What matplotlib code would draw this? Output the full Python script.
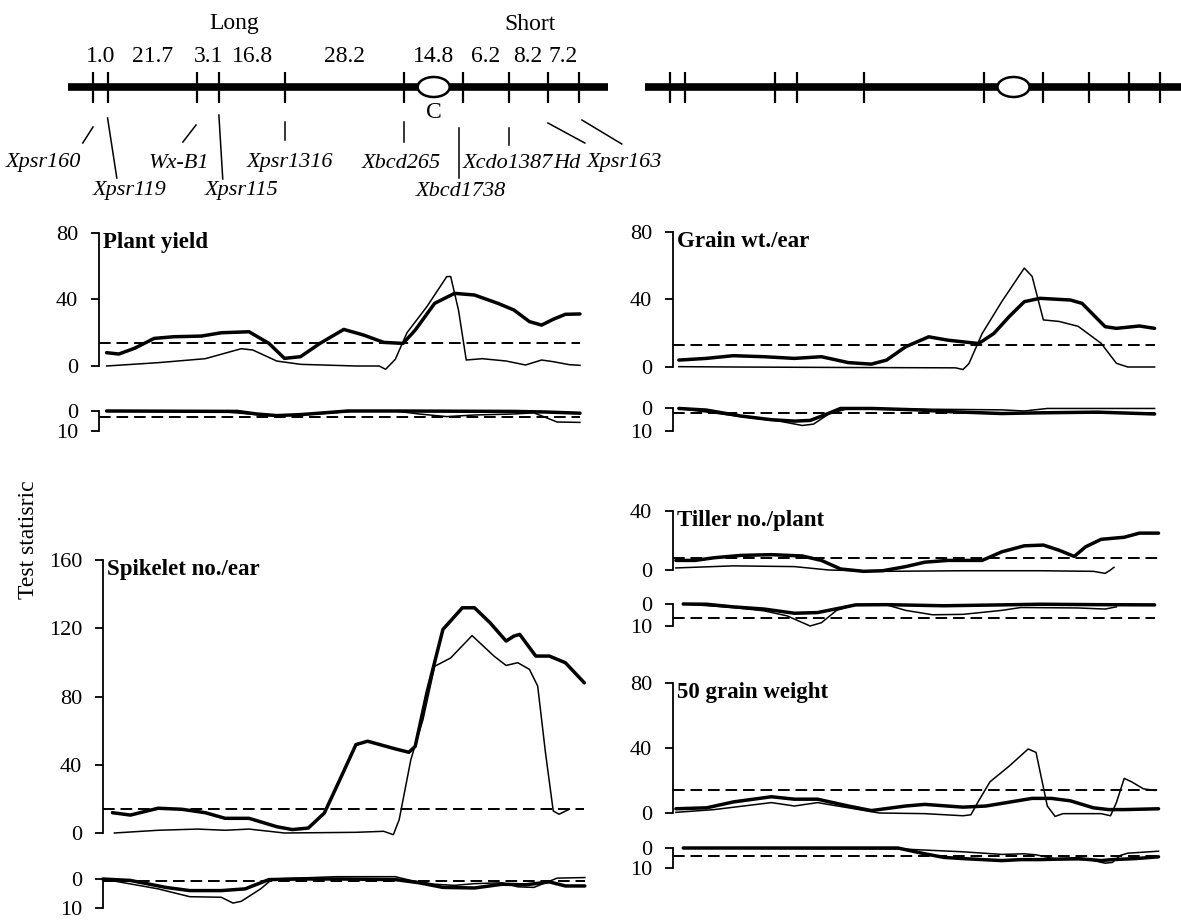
import matplotlib.pyplot as plt
from matplotlib.patches import Ellipse

plt.rcParams['font.family'] = ['Liberation Serif', 'DejaVu Serif']

W, H = 1181, 921

# ---- genetic map (positions on the drawn map, 0 = Xpsr160, 100 = Xpsr163) ----
markers = ['Xpsr160', 'Xpsr119', 'Wx-B1', 'Xpsr115', 'Xpsr1316',
           'Xbcd265', 'Xbcd1738', 'Xcdo1387', 'Hd', 'Xpsr163']
marker_pos = [0, 3.0, 21.5, 25.9, 39.6, 64.0, 76.1, 85.5, 93.6, 100]
intervals = ['1.0', '21.7', '3.1', '16.8', '28.2', '14.8', '6.2', '8.2', '7.2']
centromere_pos = 70.1

# ---- Plant yield ----
py_thick_x = [2.8, 5.3, 8.5, 12.6, 16.6, 22.3, 26.4, 32.1, 36.2, 39.4, 42.7, 46.7, 51.6, 55.7,
              59.8, 63.8, 66.3, 70.3, 74.4, 78.5, 83.3, 86.6, 89.8, 92.3, 94.7, 97.2, 100.2]
py_thick_y = [8.0, 7.2, 10.6, 16.6, 17.6, 18.0, 20.0, 20.6, 13.6, 4.6, 5.6, 13.6, 22.0, 18.6,
              14.2, 13.6, 21.6, 37.7, 43.7, 42.7, 37.7, 33.7, 26.7, 24.6, 28.1, 31.1, 31.3]
py_thin_x = [2.8, 13.4, 23.1, 30.5, 32.9, 37.8, 42.7, 54.1, 58.9, 60.2, 62.2, 64.6, 68.7, 72.8,
             73.6, 75.2, 76.8, 80.1, 85.0, 89.0, 92.3, 94.7, 98.0, 100.2]
py_thin_y = [0.0, 2.0, 4.4, 10.4, 9.6, 3.0, 1.0, 0.0, 0.0, -2.0, 4.0, 20.0, 35.7, 53.8,
             53.8, 33.7, 3.6, 4.4, 3.0, 0.6, 3.6, 2.6, 0.8, 0.4]
py_sub_thick_x = [2.8, 29.7, 33.7, 37.8, 42.7, 47.6, 52.4, 62.2, 86.6, 93.1, 100.2]
py_sub_thick_y = [0.0, 0.2, 1.5, 2.3, 1.8, 0.9, 0.0, 0.0, 0.2, 0.5, 1.1]
py_sub_thin_x = [2.8, 26.4, 36.2, 42.7, 48.4, 54.1, 62.2, 67.1, 72.8, 78.5, 86.6, 90.7, 93.1, 95.5, 100.2]
py_sub_thin_y = [0.0, 0.3, 2.3, 2.0, 1.1, 0.0, 0.0, 1.5, 2.8, 2.0, 1.5, 0.9, 3.2, 5.5, 5.7]
py_thr, py_sub_thr = 14, 3

# ---- Grain wt./ear ----
gw_thick_x = [1.8, 7.4, 12.9, 19.2, 25.4, 30.9, 36.4, 41.1, 44.2, 48.1, 52.8, 56.7, 63.0, 66.1,
              69.2, 72.3, 75.5, 81.7, 84.1, 88.8, 91.1, 95.8, 98.9]
gw_thick_y = [4.1, 5.1, 6.7, 6.1, 5.1, 6.1, 2.6, 1.7, 4.1, 12.0, 17.9, 15.9, 13.9, 19.9,
              29.8, 38.7, 40.7, 39.7, 37.7, 23.9, 22.9, 24.3, 22.9]
gw_thin_x = [1.8, 12.9, 36.4, 58.3, 59.8, 61.0, 63.7, 67.7, 72.3, 73.9, 76.2, 79.4, 83.3, 88.0,
             91.1, 93.4, 98.9]
gw_thin_y = [0.2, 0.0, -0.3, -0.5, -1.5, 2.0, 19.8, 38.7, 58.6, 53.7, 27.9, 27.0, 24.1, 14.0,
             2.2, 0.0, 0.0]
gw_sub_thick_x = [1.8, 7.4, 14.5, 20.7, 25.4, 28.6, 31.7, 34.8, 41.1, 50.4, 55.9, 67.7, 75.5, 87.2, 98.9]
gw_sub_thick_y = [0.2, 0.9, 3.5, 5.1, 5.7, 5.4, 2.9, 0.2, 0.2, 0.8, 1.5, 2.4, 2.1, 1.8, 2.6]
gw_sub_thin_x = [1.8, 14.5, 22.3, 27.0, 29.3, 32.4, 36.4, 45.8, 67.7, 72.3, 77.0, 98.9]
gw_sub_thin_y = [0.2, 3.7, 5.7, 7.6, 7.0, 2.6, 0.2, 0.4, 0.8, 1.3, 0.2, 0.2]
gw_thr, gw_sub_thr = 13, 2

# ---- Spikelet no./ear ----
sp_thick_x = [4.0, 7.7, 13.4, 18.3, 23.1, 27.2, 32.1, 37.8, 41.0, 44.3, 47.6, 50.8, 54.1, 56.5,
              62.2, 65.0, 66.3, 68.7, 72.0, 76.0, 78.5, 81.7, 85.0, 86.6, 87.8, 91.1, 93.9, 97.2, 101.1]
sp_thick_y = [11.9, 10.5, 14.5, 13.9, 11.9, 8.6, 8.6, 3.7, 2.0, 2.9, 11.7, 31.3, 51.8, 53.8,
              49.3, 47.3, 50.8, 82.1, 119.3, 132.0, 132.0, 123.2, 112.5, 115.4, 116.4, 103.7, 103.7, 99.8, 88.0]
sp_thin_x = [4.4, 13.4, 21.5, 27.2, 32.1, 39.4, 54.1, 59.8, 61.8, 63.0, 65.4, 67.9, 70.3, 73.6,
             78.0, 82.5, 85.0, 87.4, 89.8, 91.5, 93.1, 94.7, 95.9, 98.0]
sp_thin_y = [0.0, 1.6, 2.3, 1.6, 2.3, 0.0, 0.4, 1.0, -1.0, 7.8, 43.0, 66.5, 97.7, 102.6,
             115.7, 103.7, 98.2, 99.8, 95.9, 86.1, 47.1, 12.9, 11.0, 13.9]
sp_sub_thick_x = [2.0, 7.7, 15.0, 19.9, 26.4, 31.3, 36.2, 42.7, 50.8, 62.2, 67.1, 72.0, 78.5,
                  84.2, 89.0, 93.9, 97.2, 101.2]
sp_sub_thick_y = [0.0, 0.5, 2.9, 4.0, 4.0, 3.4, 0.2, 0.0, 0.0, 0.2, 1.3, 2.9, 3.1,
                  1.8, 2.0, 1.0, 2.4, 2.4]
sp_sub_thin_x = [2.0, 13.4, 19.9, 26.4, 28.8, 30.5, 34.5, 36.9, 50.0, 62.2, 65.4, 70.3, 74.4,
                 78.5, 84.2, 87.4, 90.7, 93.1, 95.5, 101.2]
sp_sub_thin_y = [0.0, 3.4, 6.1, 6.3, 8.3, 7.7, 3.4, 0.0, -0.8, -0.8, 0.5, 1.8, 2.2,
                 1.6, 1.3, 2.7, 2.9, 1.3, -0.3, -0.5]
sp_thr, sp_sub_thr = 14, 0.6

# ---- Tiller no./plant ----
tl_thick_x = [1.2, 5.1, 9.0, 14.5, 20.7, 27.0, 30.9, 34.8, 39.5, 43.4, 48.1, 52.0, 56.7, 63.7,
              67.7, 72.3, 76.2, 79.4, 82.5, 84.8, 88.0, 92.7, 95.8, 99.7]
tl_thick_y = [6.5, 6.5, 8.3, 9.9, 10.4, 9.5, 6.5, 0.7, -0.9, -0.5, 2.3, 5.3, 6.5, 6.5,
              12.3, 16.4, 16.9, 13.4, 9.2, 15.7, 20.8, 22.2, 25.0, 25.0]
tl_thin_x = [1.2, 12.9, 25.4, 32.4, 44.2, 59.8, 75.5, 86.4, 88.8, 89.9, 90.6]
tl_thin_y = [1.4, 2.8, 2.3, 0.0, -0.9, -0.5, -0.5, -0.9, -2.3, 0.0, 1.8]
tl_sub_thick_x = [2.7, 7.4, 12.9, 19.2, 25.4, 30.1, 34.8, 37.9, 44.2, 55.9, 67.7, 75.5, 87.2, 98.9]
tl_sub_thick_y = [0.0, 0.1, 1.3, 2.3, 4.2, 3.9, 1.8, 0.4, 0.3, 0.8, 0.4, 0.1, 0.3, 0.4]
tl_sub_thin_x = [2.7, 12.9, 19.2, 23.9, 28.6, 30.9, 34.0, 37.9, 44.2, 48.1, 53.6, 59.8, 67.7,
                 71.6, 83.3, 88.8, 91.1]
tl_sub_thin_y = [0.0, 1.6, 3.1, 5.4, 10.0, 8.5, 2.9, 0.3, 0.4, 2.9, 4.9, 4.7, 2.9,
                 1.6, 1.8, 2.3, 1.3]
tl_thr, tl_sub_thr = 8, 6.4

# ---- 50 grain weight ----
gr_thick_x = [1.2, 7.5, 12.9, 20.7, 25.4, 30.1, 36.4, 41.1, 48.1, 52.0, 59.8, 64.5, 73.9, 77.8,
              81.7, 86.4, 89.5, 92.7, 99.7]
gr_thick_y = [2.6, 3.2, 6.8, 10.0, 8.5, 8.5, 4.3, 1.5, 4.3, 5.3, 3.6, 4.3, 9.0, 9.0,
              7.5, 3.2, 2.1, 2.1, 2.6]
gr_thin_x = [1.2, 9.0, 20.7, 25.4, 30.1, 36.4, 42.7, 52.0, 59.8, 61.4, 63.0, 65.3, 69.2, 73.1,
             74.7, 77.0, 78.6, 80.2, 88.0, 89.9, 91.1, 92.7, 94.2, 96.6, 98.9]
gr_thin_y = [0.4, 2.1, 6.4, 4.3, 6.4, 3.2, 0.0, -0.4, -1.7, -1.1, 7.5, 19.2, 28.8, 39.4,
             37.3, 4.3, -2.1, -0.4, -0.4, -1.7, 6.4, 21.3, 19.2, 14.9, 13.9]
gr_sub_thick_x = [2.7, 46.5, 52.0, 55.9, 59.8, 67.7, 71.6, 75.5, 83.3, 88.0, 90.3, 95.0, 99.7]
gr_sub_thick_y = [0.0, 0.0, 2.9, 4.7, 5.3, 6.3, 5.8, 5.8, 5.3, 6.3, 5.8, 5.3, 4.4]
gr_sub_thin_x = [2.7, 47.3, 59.8, 67.7, 72.3, 74.7, 79.4, 85.6, 88.8, 90.3, 91.9, 93.4, 99.7]
gr_sub_thin_y = [0.0, 0.5, 1.9, 3.2, 2.9, 3.4, 5.8, 5.8, 7.6, 7.2, 3.7, 2.6, 1.6]
gr_thr, gr_sub_thr = 14, 4

# ---- layout (pixels) ----
# column: (pixel of map position 0, pixels per map unit, right edge)
cols = {'L': (93, 4.86, 620), 'R': (670, 4.9, W)}

fig = plt.figure(figsize=(W / 100, H / 100), dpi=100)
fig.patch.set_facecolor('white')


def px_to_map(col, px):
    x0, sc, _ = cols[col]
    return (px - x0) / sc


def make_axes(col, top, bot, spine_px):
    right = cols[col][2]
    ax = fig.add_axes([spine_px / W, 1 - bot / H, (right - spine_px) / W, (bot - top) / H])
    ax.set_xlim(px_to_map(col, spine_px), px_to_map(col, right))
    ax.patch.set_visible(False)
    for s in ['top', 'right', 'bottom']:
        ax.spines[s].set_visible(False)
    ax.spines['left'].set_linewidth(1.3)
    ax.tick_params(axis='y', direction='out', length=6, width=1.3, pad=9, labelsize=16)
    ax.set_xticks([])
    return ax


def draw_curves(ax, thick, thin, thr):
    ax.plot(thin[0], thin[1], color='k', lw=1.1, clip_on=False, solid_joinstyle='round')
    ax.plot(thick[0], thick[1], color='k', lw=2.5, clip_on=False,
            solid_joinstyle='round', solid_capstyle='round')
    x_end = max(max(thick[0]), max(thin[0]))
    ax.hlines(thr, ax.get_xlim()[0], x_end, colors='k', lw=1.4,
              linestyles=(0, (6, 3)), clip_on=False)


def trait_panel(col, spine_px, main_box, ymax, yticks, sub_box, title,
                thick, thin, thr, sub_thick, sub_thin, sub_thr):
    ax = make_axes(col, main_box[0], main_box[1], spine_px)
    ax.set_ylim(0, ymax)
    ax.set_yticks(yticks)
    draw_curves(ax, thick, thin, thr)
    ax.annotate(title, xy=(0, 1), xycoords='axes fraction', xytext=(3, 1),
                textcoords='offset points', ha='left', va='top',
                fontsize=16.5, fontweight='bold')
    sub = make_axes(col, sub_box[0], sub_box[1], spine_px)
    sub.set_ylim(10, 0)
    sub.set_yticks([0, 10])
    draw_curves(sub, sub_thick, sub_thin, sub_thr)
    return ax, sub


trait_panel('L', 99, (233, 366), 80, [0, 40, 80], (411, 431), 'Plant yield',
            (py_thick_x, py_thick_y), (py_thin_x, py_thin_y), py_thr,
            (py_sub_thick_x, py_sub_thick_y), (py_sub_thin_x, py_sub_thin_y), py_sub_thr)
trait_panel('R', 673, (232, 367), 80, [0, 40, 80], (408, 431), 'Grain wt./ear',
            (gw_thick_x, gw_thick_y), (gw_thin_x, gw_thin_y), gw_thr,
            (gw_sub_thick_x, gw_sub_thick_y), (gw_sub_thin_x, gw_sub_thin_y), gw_sub_thr)
trait_panel('L', 103, (560, 833), 160, [0, 40, 80, 120, 160], (879, 908), 'Spikelet no./ear',
            (sp_thick_x, sp_thick_y), (sp_thin_x, sp_thin_y), sp_thr,
            (sp_sub_thick_x, sp_sub_thick_y), (sp_sub_thin_x, sp_sub_thin_y), sp_sub_thr)
trait_panel('R', 673, (511, 570), 40, [0, 40], (604, 626), 'Tiller no./plant',
            (tl_thick_x, tl_thick_y), (tl_thin_x, tl_thin_y), tl_thr,
            (tl_sub_thick_x, tl_sub_thick_y), (tl_sub_thin_x, tl_sub_thin_y), tl_sub_thr)
trait_panel('R', 673, (683, 813), 80, [0, 40, 80], (848, 868), '50 grain weight',
            (gr_thick_x, gr_thick_y), (gr_thin_x, gr_thin_y), gr_thr,
            (gr_sub_thick_x, gr_sub_thick_y), (gr_sub_thin_x, gr_sub_thin_y), gr_sub_thr)

fig.text(28 / W, 1 - 540 / H, 'Test statisric', rotation=90, ha='center', va='center', fontsize=17)


# ---- chromosome drawings ----
def chromosome(col, left_px, right_px):
    sc = cols[col][1]
    ax = fig.add_axes([left_px / W, 1 - 200 / H, (right_px - left_px) / W, 200 / H])
    ax.set_xlim(px_to_map(col, left_px), px_to_map(col, right_px))
    ax.set_ylim(200, 0)
    ax.axis('off')
    ax.plot([-5.1, 106], [87, 87], color='k', lw=5.5, solid_capstyle='butt')
    ax.vlines(marker_pos, 72, 103, colors='k', lw=1.6)
    ax.add_patch(Ellipse((centromere_pos, 87), 32 / sc, 20, fc='white', ec='k', lw=1.8, zorder=3))
    return ax


cl = chromosome('L', 0, 620)
chromosome('R', 620, W)

cl.text(29, 24, 'Long', ha='center', va='center', fontsize=17)
cl.text(90, 24, 'Short', ha='center', va='center', fontsize=17)
for i, lab in enumerate(intervals):
    mid = (marker_pos[i] + marker_pos[i + 1]) / 2
    cl.text(mid, 57, lab, ha='center', va='center', fontsize=17)
cl.text(centromere_pos, 113, 'C', ha='center', va='center', fontsize=17)

# marker names and the leader lines that tie them to the map
label_x = [-10.1, 7.6, 17.7, 30.5, 40.5, 63.4, 75.7, 85.4, 97.5, 109.3]
label_y = [163, 191, 163, 191, 163, 163, 191, 163, 163, 163]
lead_top = [(0.0, 127), (3.0, 118), (21.2, 125), (25.9, 115), (39.6, 122),
            (64.0, 122), (75.3, 128), (85.5, 128), (93.6, 123), (100.6, 120)]
lead_bot = [(-2.1, 143), (4.9, 178), (18.5, 142), (26.7, 179), (39.6, 140),
            (64.0, 142), (75.3, 178), (85.5, 145), (101.2, 143), (108.8, 144)]
for name, lx, ly, (tx, ty), (bx, by) in zip(markers, label_x, label_y, lead_top, lead_bot):
    cl.text(lx, ly, name, ha='center', va='center', fontsize=16, style='italic')
    cl.plot([tx, bx], [ty, by], color='k', lw=1.1, clip_on=False)

fig.savefig('out.png', dpi=100, facecolor='white')
